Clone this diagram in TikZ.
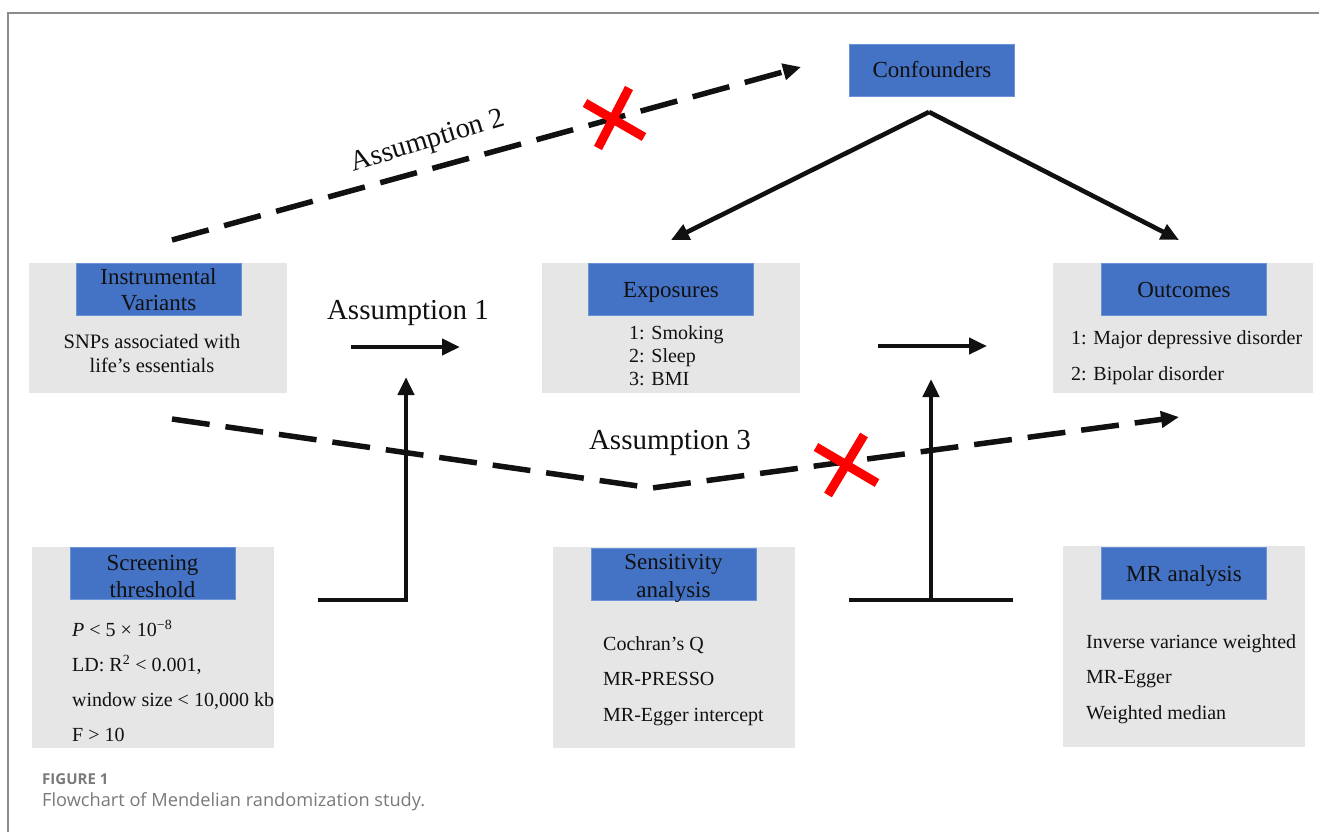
\documentclass[tikz,border=0pt]{standalone}
\usepackage{fontspec}
\setmainfont{Liberation Serif}
\newfontfamily\capfont{Open Sans}
\usetikzlibrary{arrows.meta}
\definecolor{hdrblue}{HTML}{4472C4}
\definecolor{hdredge}{HTML}{6B93D6}
\definecolor{boxgray}{HTML}{E6E6E6}
\definecolor{framegray}{HTML}{8C8C8C}
\definecolor{capgray}{HTML}{7A7A7A}
\definecolor{xred}{HTML}{FF0000}
\definecolor{ink}{HTML}{111111}
\tikzset{
  panel/.style={fill=boxgray, draw=none, inner sep=0pt, anchor=north west},
  header/.style={fill=hdrblue, draw=hdredge, line width=1pt, inner sep=0pt, anchor=north west,
    align=center, text=ink, font=\fontsize{23}{26.5}\selectfont},
  headerone/.style={header, text height=18pt, text depth=3pt},
  headtext/.style={inner sep=0pt, align=center, text=ink, font=\fontsize{23}{28}\selectfont},
  body/.style={inner sep=0pt, text=ink, align=left, anchor=west},
  assume/.style={inner sep=0pt, text=ink, font=\fontsize{29}{31}\selectfont},
  solidarrow/.style={line width=4.6pt, draw=ink, -{Triangle[length=18pt,width=16pt]}},
  plainline/.style={line width=4.6pt, draw=ink},
  dasharrow/.style={line width=5.5pt, draw=ink, dash pattern=on 38pt off 16pt, -{Triangle[length=18pt,width=16pt]}},
  crossmark/.style={line width=9pt, draw=xred},
  framerule/.style={line width=2pt, draw=framegray}
}
\begin{document}
\begin{tikzpicture}[x=1pt,y=-1pt]
\useasboundingbox (0,0) rectangle (1319,832);
\fill[white] (0,0) rectangle (1319,832);

% frame
\coordinate (fTR) at (1319,13);
\coordinate (fTL) at (8,13);
\coordinate (fBL) at (8,832);
\draw[framerule] (fTR) -- (fTL) -- (fBL);

% ---------- top row ----------
\node[panel, minimum width=258pt, minimum height=130pt] (ivp) at (29,263) {};
\node[header, minimum width=165pt, minimum height=52pt] (ivh) at (76,263) {};
\node[headtext, font=\fontsize{23}{26}\selectfont] (ivt) at (158.5,290) {Instrumental\\Variants};
\node[body, align=center, anchor=center, font=\fontsize{20.5}{24}\selectfont] (ivb) at (152,353) {SNPs associated with\\life’s essentials};

\node[panel, minimum width=258pt, minimum height=130pt] (exp) at (542,263) {};
\node[headerone, minimum width=165pt, minimum height=52pt] (exh) at (588,263) {Exposures};
\node[body, font=\fontsize{20}{23}\selectfont] (exb) at (629,356) {1: Smoking\\2: Sleep\\3: BMI};

\node[panel, minimum width=260pt, minimum height=130pt] (outp) at (1053,263) {};
\node[headerone, minimum width=165pt, minimum height=52pt] (outh) at (1101,263) {Outcomes};
\node[body, font=\fontsize{20}{36}\selectfont] (outb) at (1071,358) {1: Major depressive disorder\\2: Bipolar disorder};

\node[headerone, minimum width=165pt, minimum height=52pt] (conf) at (849,44) {Confounders};

% ---------- bottom row ----------
\node[panel, minimum width=242pt, minimum height=201pt] (scp) at (32,547) {};
\node[header, minimum width=165pt, minimum height=52pt] (sch) at (70,547) {};
\node[headtext, font=\fontsize{23}{27}\selectfont] (sct) at (152.5,576) {Screening\\threshold};
\node[body, font=\fontsize{20}{35}\selectfont] (scb) at (72,681) {\textit{P} < 5 × 10\textsuperscript{−8}\\LD: R\textsuperscript{2} < 0.001,\\window size < 10,000 kb\\F > 10};

\node[panel, minimum width=242pt, minimum height=201pt] (sep) at (553,547) {};
\node[header, minimum width=165pt, minimum height=52pt] (seh) at (591,548) {};
\node[headtext] (set) at (673.5,578) {Sensitivity\\analysis};
\node[body, font=\fontsize{20}{35.5}\selectfont] (seb) at (603,681) {Cochran’s Q\\MR-PRESSO\\MR-Egger intercept};

\node[panel, minimum width=242pt, minimum height=201pt] (mrp) at (1063,546) {};
\node[headerone, minimum width=165pt, minimum height=52pt] (mrh) at (1101,547) {MR analysis};
\node[body, font=\fontsize{20}{35.5}\selectfont] (mrb) at (1086,679) {Inverse variance weighted\\MR-Egger\\Weighted median};

% ---------- assumption labels ----------
\node[assume] (a1) at (408,313) {Assumption 1};
\node[assume] (a3) at (670,443) {Assumption 3};
\node[assume, rotate=17, font=\fontsize{28.5}{30}\selectfont] (a2) at (428,142) {Assumption 2};

% ---------- connectors ----------
\coordinate (a2s) at (172,240);
\coordinate (a2e) at (801,67);
\draw[dasharrow] (a2s) -- (a2e);

\coordinate (a3s) at (172,419);
\coordinate (a3m) at (652,488);
\coordinate (a3e) at (1179,417);
\draw[dasharrow] (a3s) -- (a3m) -- (a3e);

\coordinate (apex) at (929,112);
\coordinate (cL) at (671,240);
\coordinate (cR) at (1179,240);
\draw[solidarrow] (apex) -- (cL);
\draw[solidarrow] (apex) -- (cR);

\coordinate (h1s) at (351,347);
\coordinate (h1e) at (460,347);
\draw[solidarrow] (h1s) -- (h1e);
\coordinate (h2s) at (878,346);
\coordinate (h2e) at (987,346);
\draw[solidarrow] (h2s) -- (h2e);

\coordinate (lS) at (318,600);
\coordinate (lC) at (406,600);
\coordinate (lT) at (406,377);
\draw[solidarrow] (lS) -- (lC) -- (lT);

\coordinate (tL) at (849,600);
\coordinate (tR) at (1013,600);
\coordinate (tC) at (931,600);
\coordinate (tT) at (931,379);
\draw[plainline] (tL) -- (tR);
\draw[solidarrow] (tC) -- (tT);

% ---------- red crosses ----------
\coordinate (x1a) at (585,103);
\coordinate (x1b) at (644,137);
\coordinate (x1c) at (629,88);
\coordinate (x1d) at (598,148);
\draw[crossmark] (x1a) -- (x1b);
\draw[crossmark] (x1c) -- (x1d);

\coordinate (x2a) at (816,447);
\coordinate (x2b) at (877,483);
\coordinate (x2c) at (864,435);
\coordinate (x2d) at (828,495);
\draw[crossmark] (x2a) -- (x2b);
\draw[crossmark] (x2c) -- (x2d);

% ---------- caption ----------
\node[inner sep=0pt, anchor=west, text=capgray, font=\capfont\bfseries\fontsize{15}{17}\selectfont] (figno) at (42,779) {FIGURE 1};
\node[inner sep=0pt, anchor=west, text=capgray, font=\capfont\fontsize{18.2}{21}\selectfont] (figcap) at (42,802) {Flowchart of Mendelian randomization study.};
\end{tikzpicture}
\end{document}
